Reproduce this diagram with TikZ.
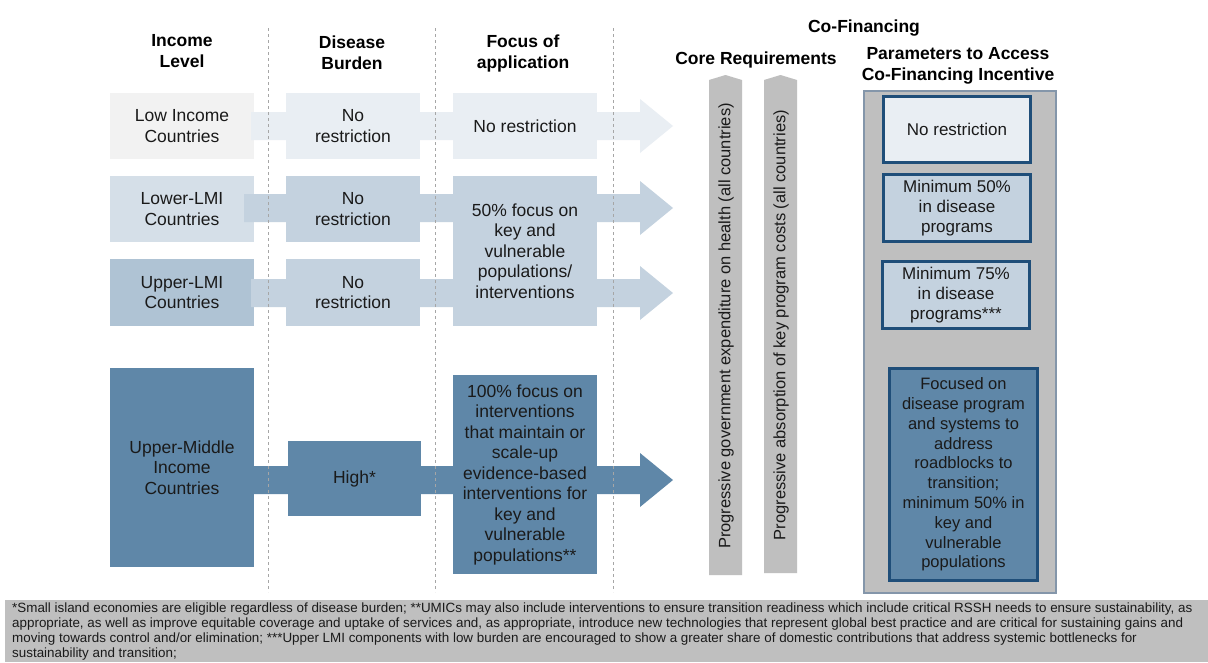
\documentclass[tikz,border=0pt]{standalone}
\usepackage{fontspec}
\setmainfont{Liberation Sans}
\usetikzlibrary{calc}
\definecolor{txt}{HTML}{1A1A1A}
\definecolor{cLow}{HTML}{F2F2F2}
\definecolor{cR1}{HTML}{E9EEF3}
\definecolor{cLLMI}{HTML}{D5DFE8}
\definecolor{cR2}{HTML}{C4D2DF}
\definecolor{cULMI}{HTML}{AFC3D4}
\definecolor{cUMIC}{HTML}{5F87A8}
\definecolor{cGray}{HTML}{BFBFBF}
\definecolor{cPanelBorder}{HTML}{8496AA}
\definecolor{cDkBlue}{HTML}{1F4E79}
\definecolor{cDash}{HTML}{A6A6A6}
\newcommand{\blockarrow}[3]{%
  \fill[#1] ($(#2)+(0,-14)$) -- ($(#3)+(-33,-14)$) -- ($(#3)+(-33,-27)$) -- (#3)
    -- ($(#3)+(-33,27)$) -- ($(#3)+(-33,14)$) -- ($(#2)+(0,14)$) -- cycle;}
\begin{document}
\begin{tikzpicture}[x=1pt,y=-1pt,
  box/.style={inner sep=0pt, align=center, text=txt, font=\fontsize{17.5}{20.5}\selectfont},
  pbox/.style={box, draw=cDkBlue, line width=3pt, font=\fontsize{17}{20}\selectfont},
  hdr/.style={inner sep=0pt, align=center, text=black, font=\bfseries\fontsize{17.5}{21}\selectfont},
  vtext/.style={inner sep=0pt, rotate=90, text=txt, font=\fontsize{16.5}{20}\selectfont},
  sep/.style={draw=cDash, line width=0.8pt, dash pattern=on 3pt off 3pt}]
\useasboundingbox[fill=white] (0,0) rectangle (1208,662);

% headers
\node[hdr] (hInc) at (182,51) {Income\\Level};
\node[hdr] (hDis) at (352,53) {Disease\\Burden};
\node[hdr] (hFoc) at (523,53) {Focus of\\application};
\node[hdr] (hCo) at (864,28) {Co-Financing};
\node[hdr] (hCore) at (756,60) {Core Requirements};
\node[hdr] (hPar) at (958,66) {Parameters to Access\\Co-Financing Incentive};

% income level boxes
\node[box, fill=cLow, minimum width=144, minimum height=66] (inc1) at (182,126) {Low Income\\Countries};
\node[box, fill=cLLMI, minimum width=144, minimum height=66] (inc2) at (182,209) {Lower-LMI\\Countries};
\node[box, fill=cULMI, minimum width=144, minimum height=67] (inc3) at (182,292.5) {Upper-LMI\\Countries};
\node[box, fill=cUMIC, minimum width=144, minimum height=199] (inc4) at (182,467.5) {Upper-Middle\\Income\\Countries};

% block arrows
\coordinate (tip1) at (673,126);
\coordinate (tip2) at (673,208);
\coordinate (tip3) at (673,293);
\coordinate (tip4) at (673,480);
\blockarrow{cR1}{$(inc1.east |- tip1)+(-3,0)$}{tip1}
\blockarrow{cR2}{$(inc2.east |- tip2)+(-10,0)$}{tip2}
\blockarrow{cR2}{$(inc3.east |- tip3)+(-3,0)$}{tip3}
\blockarrow{cUMIC}{$(inc4.east |- tip4)+(-3,0)$}{tip4}

% dashed separators
\coordinate (s1t) at (268,28); \coordinate (s1b) at (268,592);
\coordinate (s2t) at (435,28); \coordinate (s2b) at (435,592);
\coordinate (s3t) at (613,28); \coordinate (s3b) at (613,592);
\draw[sep] (s1t) -- (s1b);
\draw[sep] (s2t) -- (s2b);
\draw[sep] (s3t) -- (s3b);

% disease burden boxes
\node[box, fill=cR1, minimum width=134, minimum height=66] (dis1) at (353,126) {No\\restriction};
\node[box, fill=cR2, minimum width=134, minimum height=66] (dis2) at (353,209) {No\\restriction};
\node[box, fill=cR2, minimum width=134, minimum height=67] (dis3) at (353,292.5) {No\\restriction};
\node[box, fill=cUMIC, minimum width=133, minimum height=75] (dis4) at (354.5,478.5) {High*};

% focus boxes
\node[box, fill=cR1, minimum width=144, minimum height=66] (foc1) at (525,126) {No restriction};
\node[box, fill=cR2, minimum width=144, minimum height=150] (foc2) at (525,251) {50\% focus on\\key and\\vulnerable\\populations/\\interventions};
\node[box, fill=cUMIC, minimum width=144, minimum height=199] (foc4) at (525,474.5) {100\% focus on\\interventions\\that maintain or\\scale-up\\evidence-based\\interventions for\\key and\\vulnerable\\populations**};

% core requirement arrows
\fill[cGray] (709,575) -- (709,80) -- (725.5,75) -- (742,80) -- (742,575) -- cycle;
\fill[cGray] (764,573) -- (764,80) -- (780.5,75) -- (797,80) -- (797,573) -- cycle;
\node[vtext] (core1) at (726,326) {Progressive government expenditure on health (all countries)};
\node[vtext] (core2) at (781,325) {Progressive absorption of key program costs (all countries)};

% co-financing panel
\node[draw=cPanelBorder, line width=2pt, fill=cGray, minimum width=192, minimum height=502, inner sep=0pt] (panel) at (960,342) {};
\node[pbox, fill=cR1, minimum width=147, minimum height=66] (p1) at (957,129.5) {No restriction};
\node[pbox, fill=cR2, minimum width=147, minimum height=67] (p2) at (957,208) {Minimum 50\%\\in disease\\programs};
\node[pbox, fill=cR2, minimum width=147, minimum height=67] (p3) at (956,295) {Minimum 75\%\\in disease\\programs***};
\node[pbox, fill=cUMIC, minimum width=148, minimum height=212, font=\fontsize{16.5}{19.8}\selectfont] (p4) at (963.5,474.5) {Focused on\\disease program\\and systems to\\address\\roadblocks to\\transition;\\minimum 50\% in\\key and\\vulnerable\\populations};

% footnote
\fill[cGray] (5,600) rectangle (1208,662);
\node[anchor=north west, inner sep=0pt, align=left, text=txt, font=\fontsize{13.4}{15}\selectfont] (foot) at (12,603)
{*Small island economies are eligible regardless of disease burden; **UMICs may also include interventions to ensure transition readiness which include critical RSSH needs to ensure sustainability, as\\
appropriate, as well as improve equitable coverage and uptake of services and, as appropriate, introduce new technologies that represent global best practice and are critical for sustaining gains and\\
moving towards control and/or elimination; ***Upper LMI components with low burden are encouraged to show a greater share of domestic contributions that address systemic bottlenecks for\\
sustainability and transition;};
\end{tikzpicture}
\end{document}
